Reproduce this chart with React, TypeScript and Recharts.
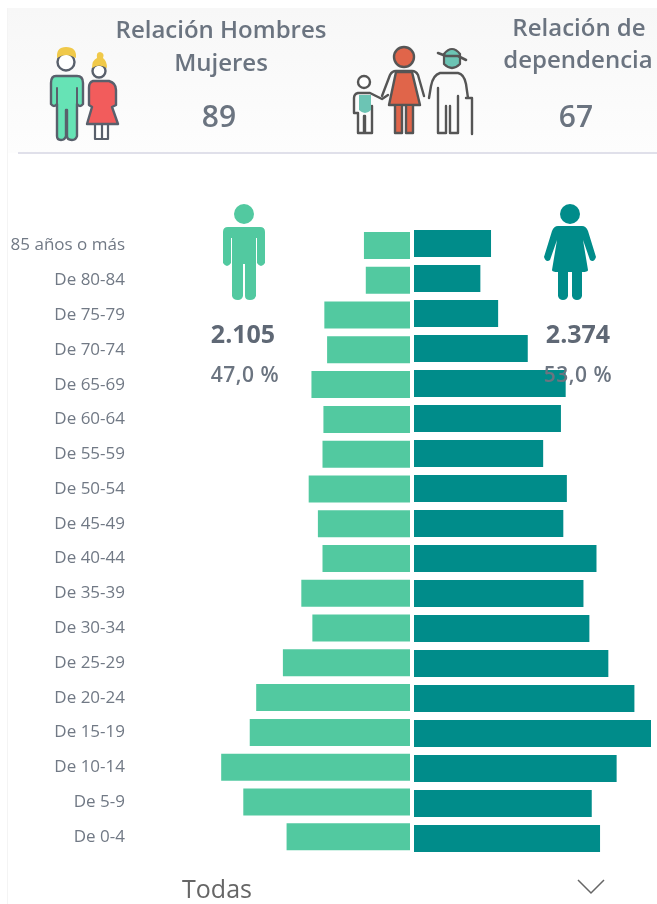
import { Bar, BarChart, XAxis, YAxis } from "recharts";

const ageGroups = [
  "85 años o más",
  "De 80-84",
  "De 75-79",
  "De 70-74",
  "De 65-69",
  "De 60-64",
  "De 55-59",
  "De 50-54",
  "De 45-49",
  "De 40-44",
  "De 35-39",
  "De 30-34",
  "De 25-29",
  "De 20-24",
  "De 15-19",
  "De 10-14",
  "De 5-9",
  "De 0-4",
];
const men = [50, 48, 93, 90, 107, 94, 95, 110, 100, 95, 118, 106, 138, 167, 174, 205, 181, 134];
const women = [65, 56, 71, 96, 128, 124, 109, 129, 126, 154, 143, 148, 164, 186, 200, 171, 150, 157];

const menData = ageGroups.map((age, i) => ({ age, value: men[i] }));
const womenData = ageGroups.map((age, i) => ({ age, value: women[i] }));

const FONT = "'Open Sans', sans-serif";
const TEXT = "#6b7480";
const OUTLINE = "#59606c";

function HeaderIcons() {
  return (
    <g strokeLinejoin="round" strokeLinecap="round">
      {/* hombre */}
      <circle cx={66} cy={62} r={8.5} fill="#fff" stroke={OUTLINE} strokeWidth={2.4} />
      <path d="M57 58 Q56 47 66 47 Q77 47 76 58 Q66 52 57 58 Z" fill="#f0c94a" />
      <path
        d="M56 76 H77 Q83 76 83 83 V104 Q80 108 77 104 V136 Q76 140 72 140 Q67 140 67 136 V110 H66 V136 Q65 140 61 140 Q57 140 57 136 V104 Q54 108 51 104 V83 Q51 76 56 76 Z"
        fill="#66e3b5"
        stroke={OUTLINE}
        strokeWidth={2.4}
      />
      <path d="M57 88 V104 M77 88 V104" fill="none" stroke={OUTLINE} strokeWidth={2} />
      {/* mujer */}
      <circle cx={99} cy={71} r={6.5} fill="#fff" stroke={OUTLINE} strokeWidth={2.4} />
      <path d="M92 68 Q92 60 97 58 Q96 52 100 52 Q105 53 103 58 Q107 61 107 68 Q99 63 92 68 Z" fill="#f0c94a" />
      <path d="M95 125 V139 H102 V125 M102 125 V139 H108 V125" fill="#fff" stroke={OUTLINE} strokeWidth={2.2} />
      <path
        d="M93 81 H109 Q116 83 116 90 V105 L112 107 L118 124 H87 L92 107 L89 105 V88 Q89 82 93 81 Z"
        fill="#f25c5c"
        stroke={OUTLINE}
        strokeWidth={2.4}
      />
      {/* niño */}
      <circle cx={364} cy={82} r={6} fill="#fff" stroke="#555" strokeWidth={2.4} />
      <path
        d="M358 93 H370 L382 99 L388 95 M358 93 Q354 94 354 98 V113 H358 V133 H364 V116 H365 V133 H372 V106"
        fill="none"
        stroke="#555"
        strokeWidth={2.4}
      />
      <path d="M359 95 H371 V110 Q365 116 359 110 Z" fill="#6cc4b4" />
      {/* madre */}
      <circle cx={404} cy={57} r={10} fill="#e0654a" stroke="#555" strokeWidth={2.4} />
      <path
        d="M396 71 H412 Q416 71 418 75 L424 96 M396 71 Q392 71 390 75 L382 96"
        fill="none"
        stroke="#555"
        strokeWidth={2.4}
      />
      <path d="M396 72 H412 L420 105 H389 Z" fill="#e0654a" stroke="#555" strokeWidth={2.4} />
      <path d="M395 106 V133 H402 V106 M406 106 V133 H413 V106" fill="#e0654a" stroke="#555" strokeWidth={2.4} />
      {/* abuelo */}
      <path d="M444 54 Q452 44 460 54 V64 Q452 72 444 64 Z" fill="#6cc4b4" stroke="#555" strokeWidth={2.2} />
      <path d="M438 53 L446 56 H458 L466 60" fill="none" stroke="#555" strokeWidth={2.6} />
      <path
        d="M440 73 H458 Q464 74 466 84 L468 98 M440 73 Q433 75 431 86 L429 98 M438 88 V133 H446 V106 M450 106 V133 H458 V96 M466 98 H472 V134"
        fill="none"
        stroke="#555"
        strokeWidth={2.4}
      />
    </g>
  );
}

function GenderIcons() {
  return (
    <g>
      <circle cx={244} cy={214} r={10} fill="#52c9a0" />
      <path
        d="M228 227 H260 Q265 227 265 232 V263 Q261 269 257 263 V238 H256 V296 Q255 300 250 300 Q245 300 245 296 V264 H243 V296 Q242 300 238 300 Q233 300 232 296 V238 H231 V263 Q227 269 223 263 V232 Q223 227 228 227 Z"
        fill="#52c9a0"
      />
      <circle cx={570} cy={214} r={10} fill="#008c8a" />
      <path
        d="M558 226 H582 Q586 226 588 231 L596 257 Q594 263 590 260 L583 240 L588 270 Q588 272 582 272 V296 Q581 300 577 300 Q573 300 572 296 V272 H568 V296 Q567 300 563 300 Q559 300 558 296 V272 Q552 272 552 270 L557 240 L550 260 Q546 263 544 257 L552 231 Q554 226 558 226 Z"
        fill="#008c8a"
      />
    </g>
  );
}

export default function App() {
  return (
    <div
      style={{
        position: "absolute",
        left: 0,
        top: 0,
        width: 657,
        height: 904,
        overflow: "hidden",
        background: "#fff",
        fontFamily: FONT,
        filter: "blur(0.4px)",
      }}
    >
      <div
        style={{
          position: "absolute",
          left: 7,
          top: 8,
          width: 650,
          height: 145,
          background: "linear-gradient(#f7f7f7, #fdfdfd)",
        }}
      />
      <div style={{ position: "absolute", left: 7, top: 8, width: 1, height: 896, background: "#f4f4f4" }} />
      <div style={{ position: "absolute", left: 18, top: 152, width: 639, height: 2, background: "#e0e0ea" }} />

      <div style={{ position: "absolute", left: 0, top: 228 }}>
        <BarChart
          data={menData}
          height={626}
          layout="vertical"
          margin={{ top: 0, right: 0, bottom: 0, left: 0 }}
          width={410}
        >
          <XAxis domain={[0, 304]} hide reversed type="number" />
          <YAxis
            axisLine={false}
            dataKey="age"
            interval={0}
            tick={{ fill: "#717985", fontSize: 17, fontFamily: FONT, dy: -1 }}
            tickLine={false}
            tickMargin={5}
            tickSize={0}
            type="category"
            width={130}
          />
          <Bar barSize={27} dataKey="value" fill="#52c9a0" isAnimationActive={false} />
        </BarChart>
      </div>

      <div style={{ position: "absolute", left: 414, top: 226 }}>
        <BarChart
          data={womenData}
          height={630}
          layout="vertical"
          margin={{ top: 0, right: 0, bottom: 0, left: 0 }}
          width={237}
        >
          <XAxis domain={[0, 200]} hide type="number" />
          <YAxis dataKey="age" hide type="category" />
          <Bar barSize={27} dataKey="value" fill="#008c8a" isAnimationActive={false} />
        </BarChart>
      </div>

      <svg height={904} style={{ position: "absolute", left: 0, top: 0 }} width={657}>
        <HeaderIcons />
        <GenderIcons />
        <g fontFamily={FONT} textAnchor="middle">
          <text fill={TEXT} fontSize={24} fontWeight={600} x={221} y={38}>Relación Hombres</text>
          <text fill={TEXT} fontSize={24} fontWeight={600} x={221} y={71}>Mujeres</text>
          <text fill={TEXT} fontSize={30} fontWeight={600} x={219} y={127}>89</text>
          <text fill={TEXT} fontSize={24} fontWeight={600} x={579} y={36}>Relación de</text>
          <text fill={TEXT} fontSize={24} fontWeight={600} x={578} y={68}>dependencia</text>
          <text fill={TEXT} fontSize={30} fontWeight={600} x={576} y={127}>67</text>
          <text fill="#5f6875" fontSize={25} fontWeight={700} x={243} y={343}>2.105</text>
          <text fill={TEXT} fontSize={21} fontWeight={600} letterSpacing={0.5} x={245} y={382}>47,0 %</text>
          <text fill="#5f6875" fontSize={25} fontWeight={700} x={578} y={343}>2.374</text>
          <text fill={TEXT} fontSize={21} fontWeight={600} letterSpacing={0.5} x={578} y={382}>53,0 %</text>
          <text fill="#666" fontSize={25} x={217} y={898}>Todas</text>
        </g>
        <path d="M578 880 L591 893 L604 880" fill="none" stroke="#666" strokeWidth={1.5} />
      </svg>
    </div>
  );
}
